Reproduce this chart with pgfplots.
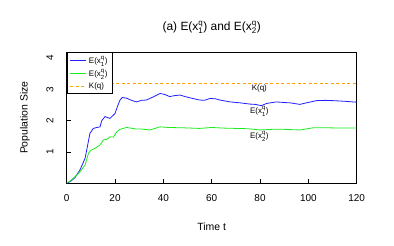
\documentclass[border=0pt]{standalone}
\usepackage{fontspec}
\setmainfont{Liberation Sans}
\usepackage{pgfplots}
\pgfplotsset{compat=1.18}
\definecolor{cblue}{RGB}{30,30,255}
\definecolor{cgreen}{RGB}{30,235,30}
\definecolor{corange}{RGB}{255,160,0}
\begin{document}
\begin{tikzpicture}
\begin{axis}[
  scale only axis, width=290bp, height=130.7bp,
  xmin=0, xmax=120, ymin=0, ymax=4.19,
  axis line style={line width=0.6pt},
  xtick={0,20,...,120}, ytick={1,2,3,4},
  tick align=inside, tick pos=left, major tick length=4bp,
  tick style={line width=0.6pt, black},
  /pgf/number format/assume math mode=true,
  ticklabel style={font=\fontsize{10}{12}\selectfont},
  xticklabel style={anchor=center, yshift=-15bp},
  yticklabel style={rotate=90, anchor=center, yshift=16.7bp},
  xlabel={Time t}, ylabel={Population Size},
  label style={font=\fontsize{10.5}{12}\selectfont},
  xlabel style={at={(0.5,0)}, anchor=center, yshift=-44bp},
  ylabel style={at={(0,0.5)}, anchor=center, yshift=41.7bp},
  title={(a) E(x$^{\mathrm{q}}_{\mathrm{1}}$) and E(x$^{\mathrm{q}}_{\mathrm{2}}$)},
  title style={at={(0.5,1)}, anchor=center, yshift=19bp, font=\fontsize{12}{14}\selectfont},
  legend style={at={(0,1)}, anchor=north west, draw=black, line width=0.6pt,
    font=\fontsize{8}{9}\selectfont, inner xsep=3pt, inner ysep=1.5pt, row sep=0.5pt,
    cells={anchor=west}},
  legend image code/.code={\draw[#1] (0bp,0bp) -- (16bp,0bp);},
  clip=false,
]
\addplot[cblue, line width=0.8pt] coordinates {
(0,0) (1.4,0.04) (3.4,0.17) (5.5,0.42) (7.6,0.79) (8.3,1.06) (9.6,1.59) (11,1.75)
(12.5,1.78) (13.8,1.8) (14.5,2.0) (15.9,2.13) (17.9,2.07) (20,2.23) (21,2.45)
(22,2.65) (23,2.74) (24.8,2.72) (26.5,2.66) (28.8,2.6) (31,2.65) (33,2.66)
(35.5,2.75) (38.6,2.87) (40.5,2.84) (42.6,2.77) (44.5,2.8) (46.9,2.82) (49,2.77)
(51,2.73) (55,2.66) (57,2.65) (59.3,2.71) (61.5,2.7) (63.4,2.66) (67.6,2.6)
(71.7,2.57) (75.8,2.53) (78,2.52) (80.6,2.48) (82.7,2.55) (86.8,2.6) (90,2.58)
(92.4,2.57) (96.5,2.52) (99.2,2.57) (103.4,2.64) (107,2.65) (110.3,2.64)
(115,2.62) (120,2.59)};
\addlegendentry{E(x$^{\mathrm{q}}_{\mathrm{1}}$)}
\addplot[cgreen, line width=0.8pt] coordinates {
(0,0) (1.4,0.06) (3.4,0.2) (5.5,0.36) (7.6,0.58) (9,0.95) (10,1.05) (11.7,1.11)
(13.8,1.22) (15.2,1.38) (16.6,1.40) (17.9,1.48) (19.3,1.47) (20.7,1.64) (22,1.72)
(24.8,1.78) (26.5,1.76) (28.8,1.73) (31,1.73) (34.5,1.7) (38.6,1.8) (42,1.78)
(48,1.77) (55,1.75) (60,1.78) (65,1.76) (70,1.75) (75,1.74) (80,1.70) (85,1.72)
(90,1.72) (96.5,1.70) (102,1.77) (108,1.77) (114,1.76) (120,1.76)};
\addlegendentry{E(x$^{\mathrm{q}}_{\mathrm{2}}$)}
\addplot[corange, line width=1pt, dash pattern=on 3bp off 2.5bp] coordinates {(0,3.2) (120,3.2)};
\addlegendentry{K(q)}
\node[font=\fontsize{8}{9}\selectfont] at (axis cs:79.7,3.02) {K(q)};
\node[font=\fontsize{8}{9}\selectfont] at (axis cs:79.7,2.29) {E(x$^{\mathrm{q}}_{\mathrm{1}}$)};
\node[font=\fontsize{8}{9}\selectfont] at (axis cs:79.7,1.5) {E(x$^{\mathrm{q}}_{\mathrm{2}}$)};
\end{axis}
\path ([xshift=-66.7bp,yshift=-63bp]current axis.south west) rectangle ++(394bp,246bp);
\end{tikzpicture}
\end{document}
